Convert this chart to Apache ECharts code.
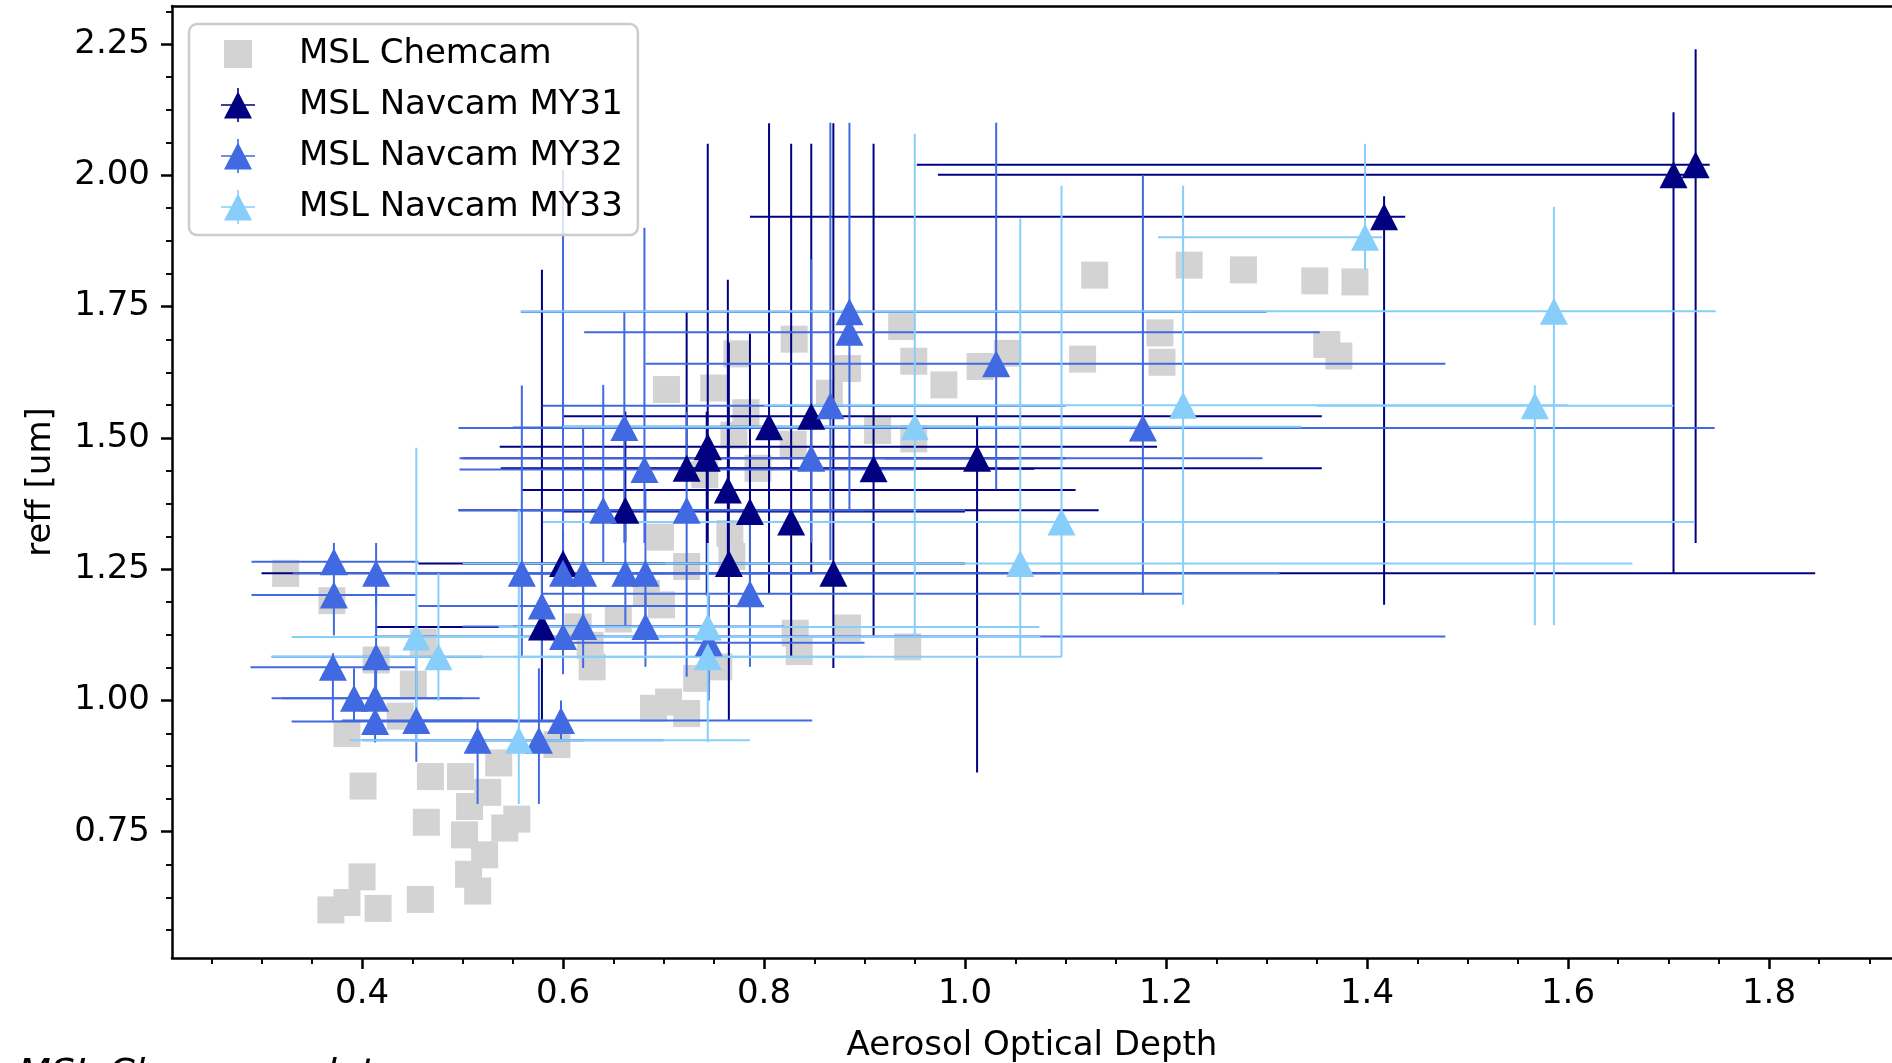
<!DOCTYPE html>
<html>
<head>
<meta charset="utf-8">
<title>reff vs Aerosol Optical Depth</title>
<script src="https://cdn.jsdelivr.net/npm/echarts@6.0.0/dist/echarts.min.js"></script>
<style>
  html, body { margin: 0; padding: 0; background: #fff; }
  #main { width: 1892px; height: 1063px; }
</style>
</head>
<body>
<div id="main"></div>
<script>
// ticks
var xMajor = [0.4, 0.6, 0.8, 1.0, 1.2, 1.4, 1.6, 1.8];
var xMinor = [0.25, 0.3, 0.35, 0.45, 0.5, 0.55, 0.65, 0.7, 0.75, 0.85, 0.9, 0.95,
  1.05, 1.1, 1.15, 1.25, 1.3, 1.35, 1.45, 1.5, 1.55, 1.65, 1.7, 1.75, 1.85, 1.9];
var yMajor = [0.75, 1.0, 1.25, 1.5, 1.75, 2.0, 2.25];
var yMinor = [0.5625, 0.625, 0.6875, 0.8125, 0.875, 0.9375, 1.0625, 1.125, 1.1875,
  1.3125, 1.375, 1.4375, 1.5625, 1.625, 1.6875, 1.8125, 1.875, 1.9375, 2.0625, 2.125, 2.1875, 2.3125];

// MSL Chemcam: [aod, reff]
var chemcam = [
  [0.324,1.242],[0.370,1.190],[0.385,0.937],[0.401,0.837],[0.400,0.664],[0.369,0.601],
  [0.385,0.615],[0.416,0.604],[0.458,0.621],[0.464,0.768],[0.468,0.855],[0.498,0.855],
  [0.502,0.744],[0.507,0.798],[0.506,0.669],[0.515,0.637],[0.522,0.706],[0.525,0.825],
  [0.536,0.881],[0.542,0.757],[0.554,0.774],[0.414,1.077],[0.451,1.031],[0.461,1.111],
  [0.438,0.970],[0.594,0.916],[0.615,1.140],[0.627,1.105],[0.629,1.064],[0.655,1.155],
  [0.683,1.204],[0.698,1.182],[0.697,1.311],[0.723,1.255],[0.766,1.318],[0.768,1.274],
  [0.690,0.985],[0.705,0.997],[0.723,0.975],[0.733,1.042],[0.755,1.064],[0.831,1.128],
  [0.835,1.093],[0.883,1.138],[0.943,1.102],[0.703,1.592],[0.750,1.595],[0.773,1.660],
  [0.782,1.548],[0.770,1.505],[0.794,1.442],[0.741,1.430],[0.829,1.488],[0.830,1.688],
  [0.865,1.585],[0.883,1.632],[0.913,1.514],[0.949,1.498],[0.937,1.712],[0.949,1.646],
  [0.979,1.601],[1.015,1.636],[1.042,1.661],[1.117,1.650],[1.129,1.810],[1.194,1.700],
  [1.196,1.644],[1.223,1.829],[1.277,1.820],[1.348,1.799],[1.388,1.797],[1.360,1.678],
  [1.372,1.656]
];

// Navcam: [aod, reff, aod low, aod high, reff low, reff high]
var my31 = [
  [1.727,2.020,0.952,1.741,1.300,2.240],
  [1.705,2.001,0.973,1.720,1.241,2.120],
  [1.417,1.921,0.786,1.438,1.182,1.960],
  [0.805,1.521,0.600,1.010,1.204,2.099],
  [0.847,1.541,0.600,1.355,1.241,2.060],
  [0.744,1.483,0.537,1.191,1.300,2.060],
  [0.743,1.461,0.500,1.050,1.200,1.550],
  [0.723,1.442,0.538,1.355,1.417,1.740],
  [0.764,1.401,0.559,1.110,1.250,1.801],
  [0.786,1.360,0.600,1.000,1.200,1.699],
  [0.662,1.362,0.496,1.133,1.302,1.550],
  [0.827,1.340,0.580,1.050,1.083,2.060],
  [1.012,1.461,0.920,1.100,0.863,1.540],
  [0.909,1.441,0.600,1.069,1.124,2.060],
  [0.765,1.261,0.500,1.000,0.962,1.681],
  [0.869,1.242,0.300,1.846,1.062,2.099],
  [0.600,1.261,0.456,0.702,1.200,1.320],
  [0.579,1.140,0.415,0.700,0.963,1.820]
];
var my32 = [
  [0.372,1.264,0.290,0.456,1.240,1.300],
  [0.372,1.201,0.290,0.454,1.124,1.250],
  [0.371,1.063,0.289,0.454,0.962,1.090],
  [0.414,1.242,0.331,0.550,1.180,1.300],
  [0.414,1.083,0.310,0.520,1.000,1.240],
  [0.392,1.004,0.310,0.517,0.962,1.061],
  [0.413,1.004,0.320,0.500,0.950,1.060],
  [0.413,0.960,0.330,0.600,0.920,1.000],
  [0.454,0.962,0.380,0.550,0.883,1.083],
  [0.515,0.924,0.400,0.620,0.803,0.959],
  [0.576,0.924,0.450,0.700,0.803,1.061],
  [0.559,1.242,0.450,0.700,1.083,1.600],
  [0.579,1.180,0.456,0.800,1.080,1.260],
  [0.600,1.122,0.412,1.478,1.050,1.200],
  [0.600,1.242,0.500,0.750,1.120,2.010],
  [0.620,1.242,0.450,0.800,1.160,1.519],
  [0.620,1.141,0.500,0.750,1.062,1.220],
  [0.598,0.962,0.450,0.848,0.923,1.000],
  [0.640,1.362,0.496,0.900,1.261,1.601],
  [0.661,1.520,0.550,0.800,1.300,1.742],
  [0.662,1.242,0.450,1.313,1.143,1.360],
  [0.681,1.440,0.497,0.950,1.300,1.900],
  [0.682,1.242,0.550,0.850,1.160,1.400],
  [0.682,1.141,0.550,0.820,1.064,1.200],
  [0.723,1.362,0.550,1.000,1.045,1.550],
  [0.745,1.110,0.600,0.900,1.000,1.200],
  [0.786,1.203,0.580,1.216,1.064,1.360],
  [0.847,1.461,0.497,1.296,1.300,1.840],
  [0.866,1.561,0.580,1.100,1.267,2.100],
  [0.885,1.740,0.558,1.300,1.700,2.100],
  [0.885,1.701,0.621,1.353,1.361,1.740],
  [1.031,1.641,0.682,1.478,1.402,2.100],
  [1.177,1.519,0.496,1.746,1.201,2.000]
];
var my33 = [
  [0.454,1.121,0.330,1.075,0.920,1.481],
  [0.476,1.083,0.310,0.900,1.000,1.242],
  [0.556,0.924,0.388,0.786,0.803,1.362],
  [0.744,1.140,0.536,1.074,1.100,1.300],
  [0.744,1.083,0.550,1.096,0.921,1.120],
  [0.950,1.521,0.600,1.335,1.121,2.079],
  [1.055,1.261,0.500,1.664,1.083,1.918],
  [1.096,1.340,0.580,1.726,1.083,1.980],
  [1.217,1.562,0.800,1.600,1.182,1.980],
  [1.398,1.882,1.192,1.415,1.821,2.060],
  [1.586,1.741,0.558,1.747,1.143,1.940],
  [1.567,1.561,1.350,1.705,1.143,1.600]
];

var X_MIN = 0.2109, X_MAX = 1.9224;
var Y_MIN = 0.5095, Y_MAX = 2.3225;

var FONT = '"DejaVu Sans", sans-serif';
var FS = 34;
var colChem = '#d3d3d3', col31 = '#000080', col32 = '#4169e1', col33 = '#87cefa';

var triIcon = 'path://M3,30.5L17,3.5L31,30.5Z M16.2,0h1.6v34h-1.6Z M0,16.2h34v1.6h-34Z';
var sqIcon = 'path://M3,3h28v28h-28Z M0,0h0.01v0.01h-0.01Z M33.99,33.99h0.01v0.01h-0.01Z';

// horizontal and vertical error bars, no caps
function errRender(color) {
  return function (params, api) {
    var x = api.value(0), y = api.value(1);
    var h1 = api.coord([api.value(2), y]), h2 = api.coord([api.value(3), y]);
    var v1 = api.coord([x, api.value(4)]), v2 = api.coord([x, api.value(5)]);
    var st = { stroke: color, lineWidth: 2 };
    return {
      type: 'group',
      children: [
        { type: 'line', shape: { x1: h1[0], y1: h1[1], x2: h2[0], y2: h2[1] }, style: st },
        { type: 'line', shape: { x1: v1[0], y1: v1[1], x2: v2[0], y2: v2[1] }, style: st }
      ]
    };
  };
}

function errSeries(name, data, color) {
  return {
    name: name,
    type: 'custom',
    renderItem: errRender(color),
    data: data,
    encode: { x: [0, 2, 3], y: [1, 4, 5] },
    itemStyle: { color: color },
    z: 2,
    silent: true
  };
}

function triSeries(name, data, color) {
  return {
    name: name,
    type: 'scatter',
    data: data,
    symbol: 'triangle',
    symbolSize: [28, 27],
    itemStyle: { color: color, opacity: 1 },
    encode: { x: 0, y: 1 },
    z: 3,
    silent: true
  };
}

var axisLineStyle = { color: '#000', width: 2.5 };
var labelStyle = { color: '#000', fontSize: FS, fontFamily: FONT };

var myChart = echarts.init(document.getElementById('main'), null, { renderer: 'canvas' });

var option = {
  animation: false,
  backgroundColor: '#fff',
  grid: { left: 172, right: 0, top: 6, bottom: 105, containLabel: false, outerBoundsMode: 'none' },
  legend: {
    orient: 'vertical',
    left: 189,
    top: 24,
    itemWidth: 34,
    itemHeight: 34,
    itemGap: 17,
    padding: [13, 15, 11, 32],
    backgroundColor: 'rgba(255,255,255,0.8)',
    borderColor: '#cccccc',
    borderWidth: 2.5,
    borderRadius: 8,
    selectedMode: false,
    textStyle: { color: '#000', fontSize: FS, fontFamily: FONT, padding: [0, 0, 0, 39] },
    data: [
      { name: 'MSL Chemcam', icon: sqIcon },
      { name: 'MSL Navcam MY31', icon: triIcon },
      { name: 'MSL Navcam MY32', icon: triIcon },
      { name: 'MSL Navcam MY33', icon: triIcon }
    ]
  },
  xAxis: [
    {
      type: 'value', min: X_MIN, max: X_MAX, position: 'bottom',
      axisLine: { show: true, onZero: false, lineStyle: axisLineStyle },
      axisTick: { show: true, length: 11, lineStyle: { color: '#000', width: 2.5 }, customValues: xMajor },
      axisLabel: {
        show: true, customValues: xMajor, margin: 19,
        color: '#000', fontSize: FS, fontFamily: FONT,
        formatter: function (v) { return v.toFixed(1); }
      },
      splitLine: { show: false },
      name: 'Aerosol Optical Depth', nameLocation: 'middle', nameGap: 71,
      nameTextStyle: labelStyle
    },
    {
      type: 'value', min: X_MIN, max: X_MAX, position: 'bottom',
      axisLine: { show: false, onZero: false },
      axisTick: { show: true, length: 6, lineStyle: { color: '#000', width: 1.9 }, customValues: xMinor },
      axisLabel: { show: false },
      splitLine: { show: false }
    },
    {
      type: 'value', min: X_MIN, max: X_MAX, position: 'top',
      axisLine: { show: true, onZero: false, lineStyle: axisLineStyle },
      axisTick: { show: false },
      axisLabel: { show: false },
      splitLine: { show: false }
    }
  ],
  yAxis: [
    {
      type: 'value', min: Y_MIN, max: Y_MAX, position: 'left',
      axisLine: { show: true, onZero: false, lineStyle: axisLineStyle },
      axisTick: { show: true, length: 11, lineStyle: { color: '#000', width: 2.5 }, customValues: yMajor },
      axisLabel: {
        show: true, customValues: yMajor, margin: 22,
        color: '#000', fontSize: FS, fontFamily: FONT,
        formatter: function (v) { return v.toFixed(2); }
      },
      splitLine: { show: false },
      name: 'reff [um]', nameLocation: 'middle', nameRotate: 90, nameGap: 114,
      nameTextStyle: labelStyle
    },
    {
      type: 'value', min: Y_MIN, max: Y_MAX, position: 'left',
      axisLine: { show: false, onZero: false },
      axisTick: { show: true, length: 6, lineStyle: { color: '#000', width: 1.9 }, customValues: yMinor },
      axisLabel: { show: false },
      splitLine: { show: false }
    }
  ],
  graphic: [
    {
      type: 'text', left: 18, top: 1056, z: 10,
      style: { text: 'MSL Chemcam data', fill: '#000', font: 'italic 38px "DejaVu Sans", sans-serif' }
    }
  ],
  series: [
    {
      name: 'MSL Chemcam', type: 'scatter', data: chemcam,
      symbol: 'rect', symbolSize: 27,
      itemStyle: { color: colChem, opacity: 1 },
      z: 1, silent: true
    },
    triSeries('MSL Navcam MY31', my31, col31),
    triSeries('MSL Navcam MY32', my32, col32),
    triSeries('MSL Navcam MY33', my33, col33),
    errSeries('MSL Navcam MY31', my31, col31),
    errSeries('MSL Navcam MY32', my32, col32),
    errSeries('MSL Navcam MY33', my33, col33)
  ]
};

myChart.setOption(option);
window.onresize = myChart.resize;
</script>
</body>
</html>
